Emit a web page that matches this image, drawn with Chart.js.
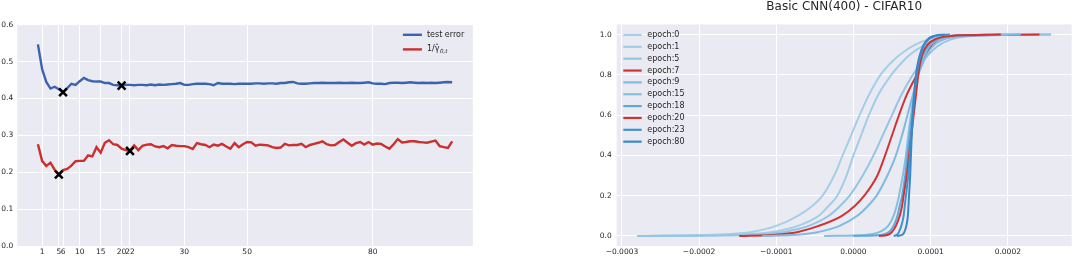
<!DOCTYPE html>
<html>
<head>
<meta charset="utf-8">
<script src="https://cdn.jsdelivr.net/npm/chart.js@4.4.1/dist/chart.umd.min.js"></script>
<style>
  html, body { margin: 0; padding: 0; background: #fff; }
  #wrap { position: relative; width: 1074px; height: 258px; }
  canvas { position: absolute; top: 0; }
  #errChart { left: 0; }
  #cdfChart { left: 537px; }
</style>
</head>
<body>
<div id="wrap">
  <canvas id="errChart" width="537" height="258"></canvas>
  <canvas id="cdfChart" width="537" height="258"></canvas>
</div>
<script>
// ---- left panel: test error vs 1/gamma, one value per step ----
const testError = [
  0.547, 0.480, 0.445, 0.427, 0.432, 0.425, 0.417, 0.428, 0.440, 0.437,
  0.447, 0.456, 0.450, 0.447, 0.446, 0.446, 0.442, 0.442, 0.437, 0.436,
  0.435, 0.437, 0.437, 0.436, 0.437, 0.437, 0.436, 0.438, 0.436, 0.438,
  0.437, 0.438, 0.439, 0.440, 0.442, 0.437, 0.437, 0.439, 0.440, 0.440,
  0.440, 0.439, 0.436, 0.442, 0.440, 0.440, 0.440, 0.439, 0.440, 0.440,
  0.440, 0.440, 0.441, 0.441, 0.440, 0.441, 0.441, 0.440, 0.442, 0.442,
  0.444, 0.445, 0.441, 0.440, 0.440, 0.441, 0.442, 0.442, 0.443, 0.442,
  0.442, 0.442, 0.443, 0.442, 0.442, 0.443, 0.442, 0.442, 0.443, 0.444,
  0.441, 0.440, 0.440, 0.439, 0.442, 0.443, 0.443, 0.442, 0.443, 0.444,
  0.443, 0.442, 0.443, 0.442, 0.443, 0.442, 0.443, 0.444, 0.445, 0.444
];
const invGamma = [
  0.276, 0.231, 0.217, 0.226, 0.207, 0.194, 0.206, 0.209, 0.218, 0.230,
  0.231, 0.231, 0.246, 0.243, 0.268, 0.253, 0.280, 0.287, 0.276, 0.274,
  0.264, 0.260, 0.258, 0.273, 0.260, 0.272, 0.275, 0.276, 0.270, 0.268,
  0.271, 0.265, 0.274, 0.272, 0.271, 0.271, 0.268, 0.263, 0.279, 0.276,
  0.274, 0.268, 0.275, 0.272, 0.277, 0.270, 0.264, 0.279, 0.268, 0.276,
  0.282, 0.281, 0.272, 0.275, 0.274, 0.273, 0.268, 0.266, 0.267, 0.277,
  0.273, 0.274, 0.274, 0.277, 0.268, 0.274, 0.277, 0.280, 0.284, 0.276,
  0.273, 0.274, 0.282, 0.289, 0.280, 0.272, 0.279, 0.282, 0.275, 0.282,
  0.275, 0.278, 0.277, 0.270, 0.264, 0.276, 0.290, 0.281, 0.282, 0.284,
  0.284, 0.282, 0.281, 0.280, 0.283, 0.286, 0.271, 0.268, 0.266, 0.284
];
const testErrorMarks = [6, 20];
const invGammaMarks = [5, 22];
const stepTicks = [1, 5, 6, 10, 15, 20, 22, 35, 50, 80];
const stepTickLabels = ['1', '5', '6', '10', '15', '20', '22', '30', '50', '80'];

// ---- right panel: CDF of values per epoch (x in units of 1e-4) ----
const epochNames = ['epoch:0', 'epoch:1', 'epoch:5', 'epoch:7', 'epoch:9',
                    'epoch:15', 'epoch:18', 'epoch:20', 'epoch:23', 'epoch:80'];
const cdfLevels = [0, 0.005, 0.01, 0.02, 0.05, 0.1, 0.15, 0.2, 0.3, 0.4, 0.5,
                   0.6, 0.7, 0.8, 0.85, 0.9, 0.95, 0.98, 0.99, 0.995, 1];
const q0  = [-2.80, -1.90, -1.60, -1.32, -1.00, -0.72, -0.53, -0.40, -0.25, -0.14, -0.03,
             0.08, 0.20, 0.35, 0.46, 0.60, 0.80, 1.00, 1.13, 1.28, 2.56];
const q1  = [-2.80, -1.70, -1.35, -1.05, -0.72, -0.45, -0.32, -0.21, -0.09, 0.00, 0.10,
             0.20, 0.32, 0.49, 0.60, 0.73, 0.93, 1.13, 1.27, 1.42, 2.56];
const q5  = [-2.80, -1.45, -1.15, -0.90, -0.58, -0.32, -0.17, -0.05, 0.12, 0.26, 0.38,
             0.50, 0.62, 0.77, 0.86, 0.97, 1.12, 1.30, 1.45, 1.62, 2.56];
const q7  = [-1.48, -1.05, -0.90, -0.72, -0.45, -0.15, 0.02, 0.14, 0.31, 0.41, 0.50,
             0.59, 0.69, 0.82, 0.88, 0.94, 1.02, 1.12, 1.22, 1.36, 2.41];
const q9  = [-1.18, -0.80, -0.62, -0.45, -0.18, 0.05, 0.19, 0.30, 0.44, 0.55, 0.63,
             0.70, 0.77, 0.84, 0.89, 0.95, 1.05, 1.20, 1.32, 1.48, 2.17];
const q15 = [-0.38, 0.15, 0.25, 0.34, 0.45, 0.52, 0.56, 0.59, 0.64, 0.68, 0.71,
             0.745, 0.78, 0.83, 0.87, 0.92, 1.00, 1.13, 1.25, 1.40, 2.00];
const q18 = [0.00, 0.36, 0.41, 0.46, 0.52, 0.57, 0.60, 0.63, 0.67, 0.70, 0.73,
             0.76, 0.79, 0.83, 0.86, 0.90, 0.98, 1.10, 1.20, 1.35, 1.90];
const q20 = [0.33, 0.44, 0.47, 0.50, 0.55, 0.60, 0.63, 0.65, 0.69, 0.72, 0.75,
             0.78, 0.81, 0.84, 0.86, 0.89, 0.96, 1.08, 1.18, 1.32, 1.91];
const q23 = [0.52, 0.56, 0.575, 0.59, 0.62, 0.65, 0.665, 0.68, 0.71, 0.73, 0.75,
             0.77, 0.79, 0.82, 0.84, 0.87, 0.92, 0.99, 1.04, 1.10, 1.25];
const q80 = [0.56, 0.63, 0.645, 0.66, 0.685, 0.705, 0.713, 0.72, 0.735, 0.745, 0.755,
             0.77, 0.785, 0.81, 0.83, 0.86, 0.91, 0.97, 1.01, 1.06, 1.18];
const epochQuantiles = [q0, q1, q5, q7, q9, q15, q18, q20, q23, q80];
const epochColors = ['#a6cfe7', '#a3cde6', '#93c5e4', '#cf3338', '#7fbbe1',
                     '#86bee2', '#5da9da', '#cf3338', '#3f94cf', '#3889c6'];
const xUnit = 1e-4;
const cdfXTicks = [-3, -2, -1, 0, 1, 2];
const cdfYTicks = [0, 0.2, 0.4, 0.6, 0.8, 1.0];

const BG = '#eaeaf2';
const TXT = '#262626';
const FONT = 'DejaVu Sans';

// gray plot area like seaborn darkgrid
const plotBg = {
  id: 'plotBg',
  beforeDraw(chart) {
    const { ctx, chartArea: a } = chart;
    ctx.save();
    ctx.fillStyle = BG;
    ctx.fillRect(a.left, a.top, a.width, a.height);
    ctx.restore();
  }
};

// matplotlib-ish legend: short line + text, placed inside the axes
const lineLegend = {
  id: 'lineLegend',
  afterDraw(chart, args, o) {
    const { ctx, chartArea: a } = chart;
    const items = chart.data.datasets.filter(d => d.label);
    const x0 = o.fromRight ? a.right - o.dx : a.left + o.dx;
    ctx.save();
    ctx.textBaseline = 'middle';
    items.forEach((d, i) => {
      const y = a.top + o.dy + i * o.rowH;
      ctx.strokeStyle = d.borderColor;
      ctx.lineWidth = o.lineWidth;
      ctx.beginPath();
      ctx.moveTo(x0, y);
      ctx.lineTo(x0 + o.handle, y);
      ctx.stroke();
      ctx.fillStyle = TXT;
      ctx.font = o.size + 'px ' + FONT;
      const tx = x0 + o.handle + o.gap;
      ctx.fillText(d.label, tx, y);
      if (d.sub) {
        const w = ctx.measureText(d.label).width;
        ctx.font = 'italic ' + (o.size * 0.7) + 'px ' + FONT;
        ctx.fillText(d.sub, tx + w + 0.5, y + 2.5);
      }
    });
    ctx.restore();
  }
};

const tickFont = { family: FONT, size: 7.5 };

// left chart
const blue = '#3d63ae';
const red = '#c9302e';
const marks = testErrorMarks.map(i => ({ x: i, y: testError[i] }))
  .concat(invGammaMarks.map(i => ({ x: i, y: invGamma[i] })));

new Chart(document.getElementById('errChart'), {
  type: 'line',
  data: {
    datasets: [
      { label: 'test error', data: testError.map((v, i) => ({ x: i, y: v })),
        borderColor: blue, borderWidth: 2.4, pointRadius: 0, tension: 0, order: 1 },
      { label: '1/γ̂', sub: '0,t', data: invGamma.map((v, i) => ({ x: i, y: v })),
        borderColor: red, borderWidth: 2.4, pointRadius: 0, tension: 0, order: 1 },
      { data: marks, showLine: false, pointStyle: 'crossRot', pointRadius: 5.5,
        pointBorderWidth: 2.5, pointBorderColor: '#000', borderColor: '#000', order: 0 }
    ]
  },
  options: {
    responsive: false,
    animation: false,
    events: [],
    layout: { padding: { top: 24.8, right: 64.1, bottom: 0, left: 0 } },
    plugins: {
      legend: { display: false },
      tooltip: { enabled: false },
      lineLegend: { fromRight: true, dx: 70, dy: 10, rowH: 14.6, handle: 19, gap: 5, size: 8, lineWidth: 2.4 }
    },
    scales: {
      x: {
        type: 'linear', min: -4.95, max: 103.95,
        grid: { color: '#ffffff', lineWidth: 1, drawTicks: false },
        border: { display: false },
        afterBuildTicks: s => { s.ticks = stepTicks.map(v => ({ value: v })); },
        afterFit: s => { s.height = 12; },
        ticks: { font: tickFont, color: TXT, padding: 2, autoSkip: false, maxRotation: 0,
                 callback: (v, i) => stepTickLabels[i] }
      },
      y: {
        min: 0, max: 0.6,
        grid: { color: '#ffffff', lineWidth: 1, drawTicks: false },
        border: { display: false },
        afterFit: s => { s.width = 17.2; },
        ticks: { font: tickFont, color: TXT, padding: 4, stepSize: 0.1,
                 callback: v => v.toFixed(1) }
      }
    }
  },
  plugins: [plotBg, lineLegend]
});

// right chart
const fmtX = v => {
  const s = Math.abs(v).toFixed(4);
  return v < -1e-9 ? '\u2212' + s : s;
};

new Chart(document.getElementById('cdfChart'), {
  type: 'line',
  data: {
    datasets: epochNames.map((name, k) => ({
      label: name,
      data: epochQuantiles[k].map((q, j) => ({ x: q * xUnit, y: cdfLevels[j] })),
      borderColor: epochColors[k],
      borderWidth: 2,
      pointRadius: 0,
      cubicInterpolationMode: 'monotone',
      order: epochNames.length - k
    }))
  },
  options: {
    responsive: false,
    animation: false,
    events: [],
    layout: { padding: { top: 0, right: 2.3, bottom: 0, left: 0 } },
    plugins: {
      legend: { display: false },
      tooltip: { enabled: false },
      title: {
        display: true, text: 'Basic CNN(400) - CIFAR10', fullSize: false,
        color: TXT, font: { family: FONT, size: 12, weight: 'normal' },
        padding: { top: 0, bottom: 10.1 }
      },
      lineLegend: { fromRight: false, dx: 6.6, dy: 10.5, rowH: 11.85, handle: 18.4, gap: 5.6, size: 8, lineWidth: 2.2 }
    },
    scales: {
      x: {
        type: 'linear', min: -3.068 * xUnit, max: 2.828 * xUnit,
        grid: { color: '#ffffff', lineWidth: 1, drawTicks: false },
        border: { display: false },
        afterBuildTicks: s => { s.ticks = cdfXTicks.map(v => ({ value: v * xUnit })); },
        afterFit: s => { s.height = 12; },
        ticks: { font: tickFont, color: TXT, padding: 2, autoSkip: false, maxRotation: 0,
                 callback: v => fmtX(v) }
      },
      y: {
        type: 'linear', min: -0.05, max: 1.05,
        grid: { color: '#ffffff', lineWidth: 1, drawTicks: false },
        border: { display: false },
        afterBuildTicks: s => { s.ticks = cdfYTicks.map(v => ({ value: v })); },
        afterFit: s => { s.width = 79.7; },
        ticks: { font: tickFont, color: TXT, padding: 5, callback: v => v.toFixed(1) }
      }
    }
  },
  plugins: [plotBg, lineLegend]
});
</script>
</body>
</html>
